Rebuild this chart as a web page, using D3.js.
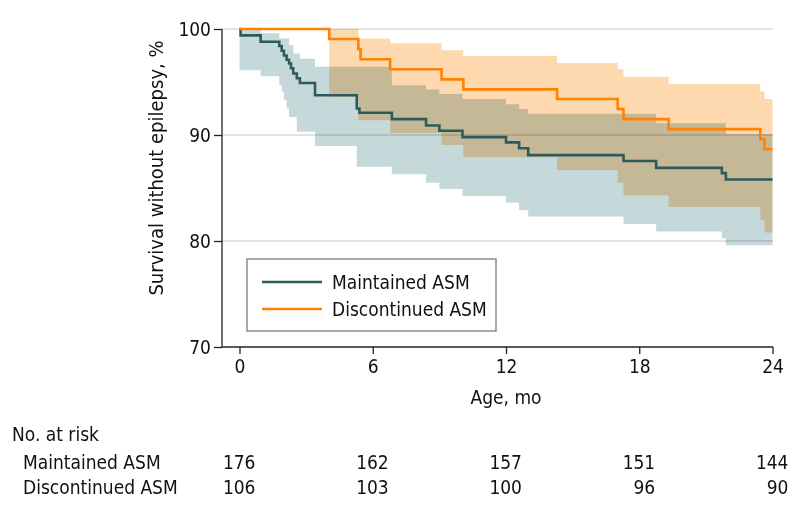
<!DOCTYPE html>
<html>
<head>
<meta charset="utf-8">
<script src="https://cdn.jsdelivr.net/npm/d3@7"></script>
<style>
  html, body { margin: 0; padding: 0; background: #fff; }
  svg { display: block; isolation: isolate; }
  text { font-family: "DejaVu Sans Condensed", "DejaVu Sans", sans-serif; font-stretch: condensed; fill: #111; }
</style>
</head>
<body>
<svg id="chart" width="794" height="514"></svg>
<script>
// ---------- DATA ----------
const seriesNames = ["Maintained ASM", "Discontinued ASM"];
const xTicks = [0, 6, 12, 18, 24];
const yTicks = [70, 80, 90, 100];

// Maintained ASM: Kaplan-Meier step curve
const maintTimes = [0, 0.05, 0.95, 1.79, 1.9, 2.0, 2.12, 2.23, 2.32, 2.42, 2.58, 2.72, 3.4, 5.28, 5.4, 6.86, 8.4, 9.0, 10.04, 12.0, 12.59, 13.0, 17.29, 18.76, 21.72, 21.9, 24];
const maintSurv  = [100, 99.4, 98.8, 98.4, 97.95, 97.5, 97.1, 96.75, 96.3, 95.8, 95.35, 94.9, 93.75, 92.5, 92.1, 91.5, 90.9, 90.4, 89.8, 89.3, 88.75, 88.1, 87.55, 86.9, 86.4, 85.8, 85.8];
// Maintained ASM: 95% CI band
const maintBandTimes = [0, 0.95, 1.79, 1.9, 2.0, 2.12, 2.23, 2.42, 2.58, 2.72, 3.4, 5.28, 6.86, 8.4, 9.0, 10.04, 12.0, 12.59, 13.0, 17.29, 18.76, 21.72, 21.9, 24];
const maintUpper = [100, 99.6, 99.1, 99.1, 99.1, 99.1, 98.5, 97.7, 97.7, 97.2, 96.45, 96.45, 94.7, 94.3, 93.87, 93.4, 92.9, 92.45, 92.0, 92.0, 91.1, 91.1, 90.1, 90.1];
const maintLower = [96.1, 95.55, 94.7, 94.1, 93.3, 92.5, 91.7, 91.7, 90.3, 90.3, 88.96, 87.0, 86.3, 85.5, 84.9, 84.25, 83.6, 82.9, 82.3, 81.6, 80.9, 80.25, 79.6, 79.6];

// Discontinued ASM: Kaplan-Meier step curve
const discTimes = [0, 4.04, 5.35, 5.45, 6.78, 9.1, 10.08, 14.3, 17.03, 17.29, 19.32, 23.45, 23.64, 24];
const discSurv  = [100, 99.05, 98.1, 97.15, 96.2, 95.25, 94.3, 93.4, 92.45, 91.5, 90.55, 89.6, 88.65, 88.65];
// Discontinued ASM: 95% CI band
const discBandTimes = [4.04, 5.35, 6.78, 9.1, 10.08, 14.3, 17.03, 17.29, 19.32, 23.45, 23.64, 24];
const discUpper = [100, 99.1, 98.65, 98.0, 97.45, 96.8, 96.2, 95.5, 94.8, 94.1, 93.4, 93.4];
const discLower = [93.6, 91.4, 90.2, 89.06, 87.9, 86.7, 85.5, 84.3, 83.2, 82.0, 80.8, 80.8];

// Number at risk table
const riskTimes = [0, 6, 12, 18, 24];
const maintAtRisk = [176, 162, 157, 151, 144];
const discAtRisk  = [106, 103, 100, 96, 90];

// ---------- STYLE / LAYOUT ----------
const colors = { maint: "#2e5b59", disc: "#ff8205", maintBand: "#c6d9da", discBand: "#fed9b0" };
const FS = "19px";
const svg = d3.select("#chart");
const x = d3.scaleLinear().domain([0, 24]).range([239.5, 772.5]);
const y = d3.scaleLinear().domain([70, 100]).range([347, 29]);
const xAxisLeft = 222, plotRight = 773;

// gridlines
svg.append("g").selectAll("line").data(yTicks.filter(d => d > 70)).join("line")
  .attr("x1", xAxisLeft).attr("x2", plotRight)
  .attr("y1", d => y(d)).attr("y2", d => y(d))
  .attr("stroke", "#d9d9d9").attr("stroke-width", 1.5);

// bands
const area = d3.area().curve(d3.curveStepAfter)
  .x(d => x(d.t)).y0(d => y(d.lo)).y1(d => y(d.hi));
const maintBand = maintBandTimes.map((t, i) => ({ t, lo: maintLower[i], hi: maintUpper[i] }));
const discBand = discBandTimes.map((t, i) => ({ t, lo: discLower[i], hi: discUpper[i] }));
svg.append("path").datum(maintBand).attr("d", area)
  .attr("fill", colors.maintBand).style("mix-blend-mode", "multiply");
svg.append("path").datum(discBand).attr("d", area)
  .attr("fill", colors.discBand).style("mix-blend-mode", "multiply");

// lines
const line = d3.line().curve(d3.curveStepAfter).x(d => x(d.t)).y(d => y(d.s));
svg.append("path").datum(maintTimes.map((t, i) => ({ t, s: maintSurv[i] })))
  .attr("d", line).attr("fill", "none").attr("stroke", colors.maint).attr("stroke-width", 2.6);
svg.append("path").datum(discTimes.map((t, i) => ({ t, s: discSurv[i] })))
  .attr("d", line).attr("fill", "none").attr("stroke", colors.disc).attr("stroke-width", 2.6);

// axes
const yAxis = d3.axisLeft(y).tickValues(yTicks).tickSize(8).tickPadding(3);
const gy = svg.append("g").attr("transform", `translate(${xAxisLeft},0)`).call(yAxis);
gy.select(".domain").attr("stroke", "#222").attr("stroke-width", 1.3).attr("d", `M0,${y(100)}V${y(70)}`);
gy.selectAll(".tick line").attr("stroke", "#222").attr("stroke-width", 1.3);
gy.selectAll(".tick text").style("font-size", FS).attr("fill", "#111")
  .style("font-family", '"DejaVu Sans Condensed", "DejaVu Sans", sans-serif');

const xAxis = d3.axisBottom(x).tickValues(xTicks).tickSize(7).tickPadding(6);
const gx = svg.append("g").attr("transform", `translate(0,${y(70)})`).call(xAxis);
gx.select(".domain").attr("stroke", "#222").attr("stroke-width", 1.3).attr("d", `M${xAxisLeft},0H${plotRight}`);
gx.selectAll(".tick line").attr("stroke", "#222").attr("stroke-width", 1.3);
gx.selectAll(".tick text").style("font-size", FS).attr("fill", "#111")
  .style("font-family", '"DejaVu Sans Condensed", "DejaVu Sans", sans-serif');

// axis titles
svg.append("text").attr("transform", `translate(163,168) rotate(-90)`)
  .attr("text-anchor", "middle").style("font-size", "20px").text("Survival without epilepsy, %");
svg.append("text").attr("x", x(12)).attr("y", 404).attr("text-anchor", "middle")
  .style("font-size", FS).text("Age, mo");

// legend
const lg = svg.append("g");
lg.append("rect").attr("x", 247).attr("y", 259).attr("width", 249).attr("height", 72)
  .attr("fill", "#fff").attr("stroke", "#7a7a7a").attr("stroke-width", 1.3);
const legendItems = [{ name: seriesNames[0], c: colors.maint, yy: 282 }, { name: seriesNames[1], c: colors.disc, yy: 309 }];
legendItems.forEach(it => {
  lg.append("line").attr("x1", 262).attr("x2", 322).attr("y1", it.yy).attr("y2", it.yy)
    .attr("stroke", it.c).attr("stroke-width", 2.6);
  lg.append("text").attr("x", 332).attr("y", it.yy + 7).style("font-size", FS).text(it.name);
});

// number at risk
svg.append("text").attr("x", 12).attr("y", 441).style("font-size", FS).text("No. at risk");
const rows = [{ name: seriesNames[0], vals: maintAtRisk, yy: 469 }, { name: seriesNames[1], vals: discAtRisk, yy: 494 }];
rows.forEach(r => {
  svg.append("text").attr("x", 23).attr("y", r.yy).style("font-size", FS).text(r.name);
  svg.append("g").selectAll("text").data(riskTimes).join("text")
    .attr("x", d => x(d) + 16).attr("y", r.yy).attr("text-anchor", "end")
    .style("font-size", FS).text((d, i) => r.vals[i]);
});
</script>
</body>
</html>
